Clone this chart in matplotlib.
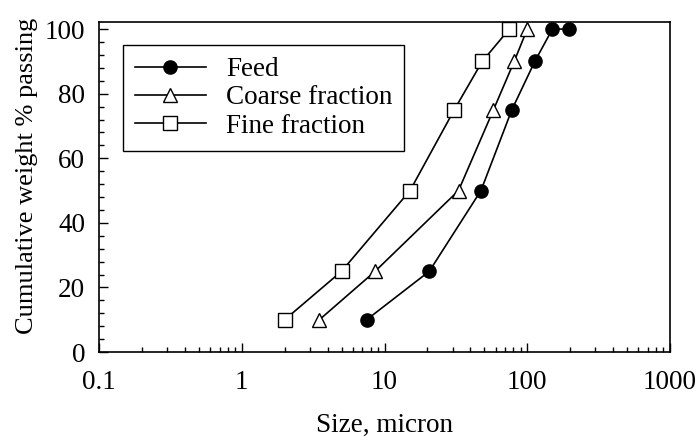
import matplotlib
matplotlib.use("Agg")
import matplotlib.pyplot as plt
from matplotlib.ticker import FixedLocator, MultipleLocator, LogLocator, NullFormatter

plt.rcParams["font.family"] = ["Liberation Serif", "DejaVu Serif"]

# cumulative weight % passing at each size (micron)
feed_size = [7.5, 20.6, 47.4, 78, 113, 150, 197]
feed_pass = [10, 25, 50, 75, 90, 100, 100]

coarse_size = [3.5, 8.6, 33, 58, 81, 100]
coarse_pass = [10, 25, 50, 75, 90, 100]

fine_size = [2.0, 5.0, 15.1, 30.8, 48.4, 74.8]
fine_pass = [10, 25, 50, 75, 90, 100]

fs = 19.5

fig = plt.figure(figsize=(7, 4.44), dpi=100)
ax = fig.add_axes([99 / 700, 92 / 444, 571 / 700, 330 / 444])

line_kw = dict(color="black", lw=1.2, markersize=9.5, markeredgewidth=1.0, markeredgecolor="black")
ax.plot(feed_size, feed_pass, marker="o", markerfacecolor="black", label="Feed", **line_kw)
ax.plot(coarse_size, coarse_pass, marker="^", markerfacecolor="white", label="Coarse fraction", **line_kw)
ax.plot(fine_size, fine_pass, marker="s", markerfacecolor="white", label="Fine fraction", **line_kw)

ax.set_xscale("log")
ax.set_xlim(0.1, 1000)
ax.set_ylim(0, 102.2)

ax.xaxis.set_major_locator(FixedLocator([0.1, 1, 10, 100, 1000]))
ax.set_xticklabels(["0.1", "1", "10", "100", "1000"])
ax.xaxis.set_minor_locator(LogLocator(base=10, subs=range(2, 10)))
ax.xaxis.set_minor_formatter(NullFormatter())
ax.yaxis.set_major_locator(FixedLocator([0, 20, 40, 60, 80, 100]))
ax.yaxis.set_minor_locator(MultipleLocator(4))

ax.tick_params(which="both", direction="in", top=False, right=False, labelsize=fs, width=1)
ax.tick_params(which="major", length=6.5)
ax.tick_params(which="minor", length=3.5)
ax.tick_params(axis="x", pad=13)
ax.tick_params(axis="y", pad=10)
for s in ax.spines.values():
    s.set_linewidth(1.2)

ax.set_xlabel("Size, micron", fontsize=fs)
ax.xaxis.set_label_coords(0.5, -(425 - 352) / 330)
ax.xaxis.label.set_va("center")
ax.set_ylabel("Cumulative weight % passing", fontsize=19)
ax.yaxis.set_label_coords(-(99 - 38) / 571, (352 - 176) / 330)

leg = ax.legend(loc="upper left", bbox_to_anchor=(24 / 571, 1 - 23 / 330), fontsize=fs,
                fancybox=False, framealpha=1, edgecolor="black", borderpad=0.45,
                handlelength=2.6, handletextpad=0.75, labelspacing=0.12, borderaxespad=0)
leg.get_frame().set_linewidth(1.0)

fig.savefig("out.png", dpi=100)
